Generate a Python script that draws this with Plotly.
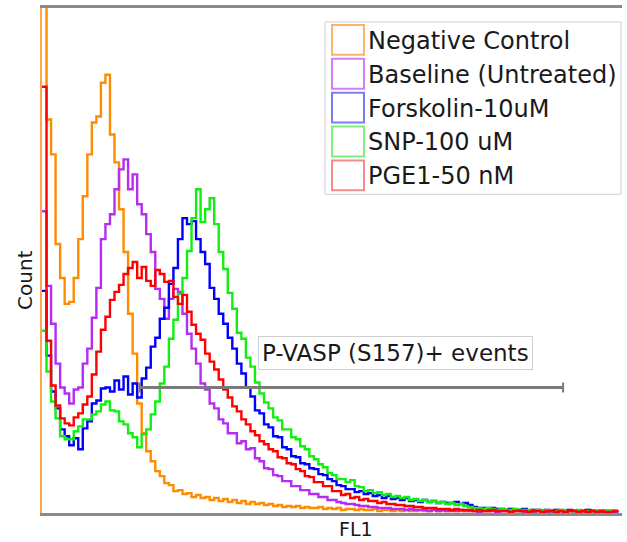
#!/usr/bin/env python3

import plotly.graph_objects as go

# FL1 channel of each histogram bin (bins of 8 channels, 0..1023)
BIN_WIDTH = 8
fl1_channel = [i * BIN_WIDTH for i in range(128)]

series_names = ["Negative Control", "Baseline (Untreated)", "Forskolin-10uM",
                "SNP-100 uM", "PGE1-50 nM"]

negative_control = [
    620, 395, 360, 270, 236, 210, 212, 236, 275, 318,
    360, 392, 398, 432, 440, 380, 352, 305, 262, 200,
    160, 110, 80, 62, 52, 42, 37, 30, 28, 22,
    23, 19, 20, 16, 18, 15, 16, 13, 15, 12,
    14, 11, 13, 10, 12, 9, 11, 9, 10, 8,
    9, 7, 8, 6, 7, 6, 7, 5, 6, 5,
    5, 6, 4, 5, 4, 5, 3, 4, 4, 3,
    4, 3, 3, 4, 2, 3, 3, 2, 3, 2,
    3, 2, 2, 3, 2, 2, 3, 2, 2, 2,
    3, 2, 2, 2, 3, 2, 2, 2, 2, 3,
    2, 2, 2, 3, 2, 2, 2, 2, 3, 2,
    2, 2, 2, 2, 3, 2, 2, 2, 2, 2,
    3, 2, 2, 2, 2, 2, 2, 2]

baseline = [
    303, 228, 190, 150, 126, 120, 110, 124, 126, 150,
    165, 196, 226, 275, 290, 300, 325, 345, 355, 325,
    340, 310, 300, 280, 262, 225, 215, 195, 215, 225,
    222, 200, 180, 165, 150, 130, 124, 110, 105, 94,
    90, 80, 80, 70, 72, 64, 65, 55, 52, 45,
    44, 38, 37, 32, 32, 27, 27, 23, 23, 19,
    19, 16, 16, 13, 13, 11, 10, 9, 9, 8,
    7, 7, 6, 6, 5, 5, 5, 4, 4, 4,
    3, 4, 3, 3, 3, 2, 3, 2, 3, 2,
    2, 2, 3, 2, 2, 2, 1, 2, 2, 2,
    1, 2, 2, 1, 2, 2, 1, 2, 1, 2,
    2, 1, 2, 1, 2, 1, 2, 2, 1, 2,
    1, 2, 1, 1, 2, 1, 1, 2]

forskolin = [
    223, 158, 122, 105, 84, 77, 68, 75, 64, 85,
    92, 110, 113, 125, 126, 122, 133, 124, 137, 119,
    130, 116, 135, 146, 167, 176, 195, 206, 230, 246,
    275, 296, 290, 293, 275, 262, 250, 226, 215, 200,
    190, 176, 165, 150, 140, 126, 117, 103, 100, 89,
    86, 77, 76, 66, 64, 57, 56, 50, 49, 45,
    44, 39, 38, 34, 32, 28, 27, 24, 24, 21,
    22, 19, 20, 17, 18, 15, 17, 14, 15, 13,
    15, 12, 13, 11, 13, 11, 12, 10, 11, 10,
    10, 11, 9, 10, 8, 6, 5, 5, 4, 5,
    4, 4, 3, 4, 3, 3, 4, 2, 3, 3,
    2, 3, 2, 3, 2, 2, 3, 2, 2, 2,
    3, 2, 2, 2, 2, 2, 2, 2]

snp = [
    183, 142, 112, 95, 77, 74, 74, 82, 87, 94,
    94, 99, 102, 109, 112, 103, 102, 92, 89, 80,
    76, 66, 79, 84, 99, 112, 130, 147, 175, 194,
    220, 236, 263, 296, 325, 292, 305, 316, 290, 262,
    245, 221, 205, 181, 175, 156, 147, 131, 120, 111,
    105, 96, 93, 84, 84, 76, 74, 67, 64, 57,
    54, 49, 46, 40, 38, 34, 34, 31, 33, 27,
    26, 22, 23, 20, 21, 18, 19, 16, 17, 15,
    16, 13, 14, 12, 13, 11, 12, 10, 11, 9,
    10, 8, 9, 7, 6, 5, 5, 4, 5, 4,
    3, 4, 3, 3, 4, 2, 3, 3, 2, 3,
    2, 3, 2, 2, 3, 2, 2, 2, 3, 2,
    2, 2, 2, 2, 2, 2, 2, 2]

pge1 = [
    428, 173, 128, 108, 95, 90, 88, 96, 100, 109,
    117, 139, 162, 184, 197, 214, 222, 229, 240, 246,
    252, 236, 247, 233, 228, 244, 240, 232, 233, 217,
    210, 219, 202, 189, 180, 174, 160, 152, 144, 134,
    124, 116, 107, 102, 94, 89, 82, 78, 72, 69,
    64, 62, 56, 55, 50, 49, 44, 42, 37, 36,
    31, 31, 27, 27, 22, 22, 18, 19, 15, 16,
    13, 14, 12, 12, 10, 11, 9, 9, 8, 8,
    7, 7, 6, 6, 5, 5, 5, 4, 4, 4,
    3, 4, 3, 3, 3, 2, 3, 2, 2, 3,
    2, 2, 2, 1, 2, 2, 2, 1, 2, 2,
    1, 2, 2, 1, 2, 1, 2, 2, 1, 2,
    1, 2, 1, 2, 1, 1, 2, 1]

# P-VASP (S157)+ gate: FL1 range and the count level it is drawn at
gate_label = "P-VASP (S157)+ events"
gate_range = [173, 920]
gate_level = 126

line_colors = ["#ff8c00", "#b52cf2", "#0000ff", "#11ee11", "#ff0000"]
swatch_colors = ["#f9b46a", "#d47cf7", "#7d7df5", "#7cf07c", "#f58a8a"]

# plot area in pixels
L, R, T, B = 42, 622, 6, 513
W, H = 627, 542


def px(x):
    return (x - L) / (R - L)


def py(y):
    return (B - y) / (B - T)


all_counts = [negative_control, baseline, forskolin, snp, pge1]

fig = go.Figure()
for name, counts, col in zip(series_names, all_counts, line_colors):
    fig.add_trace(go.Scatter(x=fl1_channel, y=counts, name=name, mode="lines",
                             line=dict(color=col, width=2.4, shape="hv"),
                             showlegend=False))

shapes = []
annotations = []

# gate bar with end ticks
shapes.append(dict(type="line", xref="x", yref="y", x0=gate_range[0], x1=gate_range[1],
                   y0=gate_level, y1=gate_level, line=dict(color="#7a7a7a", width=3)))
for gx in gate_range:
    shapes.append(dict(type="line", xref="x", yref="y", x0=gx, x1=gx,
                       y0=gate_level - 5, y1=gate_level + 5, line=dict(color="#7a7a7a", width=2)))

annotations.append(dict(text=gate_label, xref="paper", yref="paper", x=px(395), y=py(352),
                        xanchor="center", yanchor="middle",
                        showarrow=False, font=dict(size=23, color="#1a1a1a"),
                        bgcolor="white", bordercolor="#cfcfcf", borderwidth=1, borderpad=3))

# legend, drawn by hand
shapes.append(dict(type="rect", xref="paper", yref="paper", x0=px(325), x1=px(621),
                   y0=py(193), y1=py(20), line=dict(color="#d0d0d0", width=1),
                   fillcolor="white", layer="above"))
for k, (name, col) in enumerate(zip(series_names, swatch_colors)):
    top = 23 + 34 * k
    shapes.append(dict(type="rect", xref="paper", yref="paper", x0=px(332), x1=px(364),
                       y0=py(top + 30), y1=py(top), line=dict(color=col, width=2),
                       fillcolor="white", layer="above"))
    annotations.append(dict(text=name, xref="paper", yref="paper", x=px(366), y=py(top + 16),
                            xanchor="left", yanchor="middle", showarrow=False,
                            font=dict(size=24, color="#1a1a1a")))

# axis titles
annotations.append(dict(text="FL1", xref="paper", yref="paper", x=px(356), y=py(529),
                        xanchor="center", yanchor="middle",
                        showarrow=False, font=dict(size=19, color="#1a1a1a")))
annotations.append(dict(text="Count", xref="paper", yref="paper", x=px(25), y=py(279),
                        xanchor="center", yanchor="middle",
                        showarrow=False, textangle=-90, font=dict(size=20, color="#1a1a1a")))

fig.update_layout(
    width=W, height=H,
    margin=dict(l=L, r=W - R, t=T, b=H - B, pad=0),
    paper_bgcolor="white", plot_bgcolor="white",
    font=dict(family="DejaVu Sans"),
    shapes=shapes, annotations=annotations,
)
fig.update_xaxes(range=[0, 1024], showticklabels=False, ticks="", showgrid=False,
                 zeroline=False, showline=True, linecolor="#8a8a8a", linewidth=3, mirror=True)
fig.update_yaxes(range=[0, 507], showticklabels=False, ticks="", showgrid=False,
                 zeroline=False, showline=True, linecolor="#ffa54a", linewidth=2)

# the page body has a default 8px margin; drop it so the figure fills the window
fig.write_html("out.html", config={"displayModeBar": False},
               post_script="document.body.style.margin='0px';")
